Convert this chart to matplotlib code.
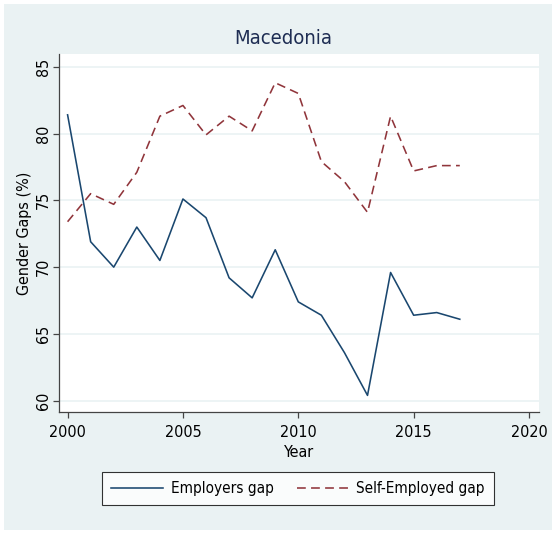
import matplotlib.pyplot as plt
from matplotlib.patches import Rectangle

# data
years = list(range(2000, 2018))
employers_gap = [81.4, 71.9, 70.0, 73.0, 70.5, 75.1, 73.7, 69.2, 67.7, 71.3,
                 67.4, 66.4, 63.6, 60.4, 69.6, 66.4, 66.6, 66.1]
self_employed_gap = [73.4, 75.5, 74.7, 77.1, 81.3, 82.1, 79.9, 81.3, 80.2, 83.8,
                     83.0, 77.9, 76.4, 74.1, 81.3, 77.2, 77.6, 77.6]
x_ticks = [2000, 2005, 2010, 2015, 2020]
y_ticks = [60, 65, 70, 75, 80, 85]

plt.rcParams['font.family'] = ['DejaVu Sans']
plt.rcParams['font.stretch'] = 'condensed'

bg = '#EAF2F3'
blue = '#1A476F'
red = '#90353B'

fig = plt.figure(figsize=(5.52, 5.33), dpi=100)
fig.patch.set_facecolor('white')
# light graph region, as in stata's s2color scheme
fig.patches.append(Rectangle((4 / 552, 1 - 530 / 533), 548 / 552, 526 / 533,
                             transform=fig.transFigure, facecolor=bg,
                             edgecolor='none', zorder=-10))

ax = fig.add_axes([0.1074, 0.2276, 0.8685, 0.6705])
ax.set_facecolor('white')

ax.plot(years, employers_gap, color=blue, lw=1.15, label='Employers gap')
ax.plot(years, self_employed_gap, color=red, lw=1.15, dashes=(5.5, 3.3),
        label='Self-Employed gap')

ax.set_xlim(1999.64, 2020.42)
ax.set_ylim(59.18, 85.93)
ax.set_xticks(x_ticks)
ax.set_yticks(y_ticks)
ax.grid(axis='y', color=bg, lw=1.2)
ax.set_axisbelow(True)

for s in ['top', 'right']:
    ax.spines[s].set_visible(False)
for s in ['left', 'bottom']:
    ax.spines[s].set_color('#444444')
    ax.spines[s].set_linewidth(0.9)

ax.tick_params(axis='both', length=4.5, width=0.9, color='#444444',
               labelsize=11.5, labelcolor='black')
ax.tick_params(axis='x', pad=5)
ax.tick_params(axis='y', pad=1.5, labelrotation=90)
for lab in ax.get_yticklabels():
    lab.set_va('center')

ax.set_xlabel('Year', fontsize=11.5)
ax.xaxis.set_label_coords(0.5, -0.113)
ax.xaxis.label.set_va('center')
ax.set_ylabel('Gender Gaps (%)', fontsize=11.5)
ax.yaxis.set_label_coords(-0.072, 0.5)
ax.yaxis.label.set_va('center')

fig.text(283.5 / 552, 1 - 38 / 533, 'Macedonia', fontsize=14.5, color='#1E2D53',
         ha='center', va='center')

leg = ax.legend(loc='center', bbox_to_anchor=(298 / 552, 1 - 488.5 / 533),
                bbox_transform=fig.transFigure, ncol=2, fontsize=11,
                frameon=True, fancybox=False, handlelength=3.4,
                columnspacing=1.5, borderpad=0.6, handletextpad=0.5)
leg.get_frame().set_edgecolor('black')
leg.get_frame().set_linewidth(0.8)

fig.savefig('out.png', dpi=100, facecolor=fig.get_facecolor())
